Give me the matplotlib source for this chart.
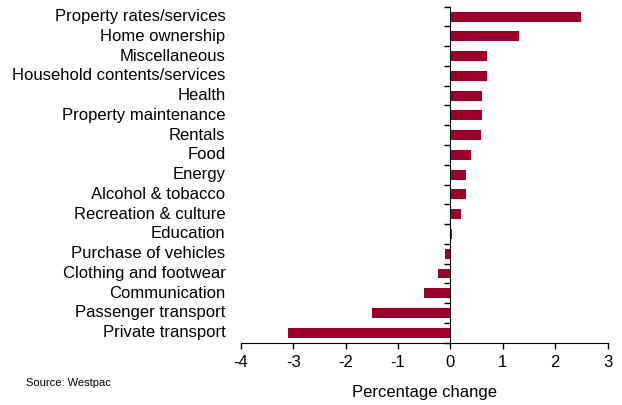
import matplotlib
matplotlib.use('Agg')
import matplotlib.pyplot as plt
import numpy as np

plt.rcParams['font.family'] = ['Liberation Sans', 'DejaVu Sans']

# categories from top to bottom
categories = ['Property rates/services', 'Home ownership', 'Miscellaneous',
              'Household contents/services', 'Health', 'Property maintenance',
              'Rentals', 'Food', 'Energy', 'Alcohol & tobacco',
              'Recreation & culture', 'Education', 'Purchase of vehicles',
              'Clothing and footwear', 'Communication', 'Passenger transport',
              'Private transport']
values = [2.5, 1.3, 0.7, 0.7, 0.6, 0.6, 0.58, 0.4, 0.3, 0.3,
          0.2, 0.03, -0.1, -0.24, -0.5, -1.5, -3.1]
xticks = [-4, -3, -2, -1, 0, 1, 2, 3]

bar_color = '#9a002a'

fig = plt.figure(figsize=(6.22, 4.05), dpi=100)
ax = fig.add_axes([0.387, 0.154, 0.590, 0.8295])

n = len(categories)
ypos = np.arange(n)[::-1]
ax.barh(ypos, values, height=0.5, color=bar_color)

ax.set_xlim(-4, 3)
ax.set_ylim(-0.5, n - 0.5)
ax.set_xticks(xticks)
ax.set_xticklabels([str(t) for t in xticks], fontsize=12)

# y axis sits at zero, ticks between categories
ax.spines['left'].set_position(('data', 0))
ax.spines['right'].set_visible(False)
ax.spines['top'].set_visible(False)
ax.set_yticks(np.arange(n + 1) - 0.5)
ax.set_yticklabels([])
ax.tick_params(axis='y', direction='out', length=4, width=1)
ax.tick_params(axis='x', direction='out', length=4, width=1, pad=5)

# category labels to the left of the plot area
for y, name in zip(ypos, categories):
    ax.annotate(name, xy=(0, y), xycoords=('axes fraction', 'data'),
                xytext=(-11, 0), textcoords='offset points',
                ha='right', va='center', fontsize=12)

ax.set_xlabel('Percentage change', fontsize=12, labelpad=11)
fig.text(0.042, 0.055, 'Source: Westpac', fontsize=8, ha='left', va='center')

fig.savefig('out.png', dpi=100)
